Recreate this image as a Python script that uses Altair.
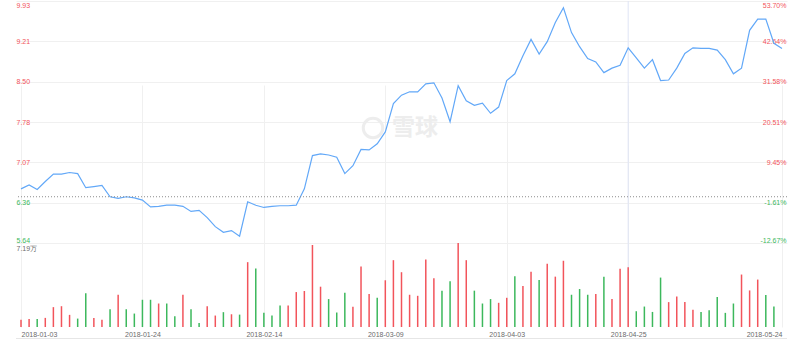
import altair as alt
import pandas as pd

# ---------------- data ----------------
dates = [
    "2018-01-03", "2018-01-04", "2018-01-05", "2018-01-08", "2018-01-09", "2018-01-10", "2018-01-11",
    "2018-01-12", "2018-01-15", "2018-01-16", "2018-01-17", "2018-01-18", "2018-01-19", "2018-01-22",
    "2018-01-23", "2018-01-24", "2018-01-25", "2018-01-26", "2018-01-29", "2018-01-30", "2018-01-31",
    "2018-02-01", "2018-02-02", "2018-02-05", "2018-02-06", "2018-02-07", "2018-02-08", "2018-02-09",
    "2018-02-12", "2018-02-13", "2018-02-14", "2018-02-15", "2018-02-20", "2018-02-21", "2018-02-22",
    "2018-02-23", "2018-02-26", "2018-02-27", "2018-02-28",
    "2018-03-01", "2018-03-02", "2018-03-05", "2018-03-06", "2018-03-07", "2018-03-08", "2018-03-09",
    "2018-03-12", "2018-03-13", "2018-03-14", "2018-03-15", "2018-03-16", "2018-03-19", "2018-03-20",
    "2018-03-21", "2018-03-22", "2018-03-23", "2018-03-26", "2018-03-27", "2018-03-28", "2018-03-29",
    "2018-04-03", "2018-04-04", "2018-04-06", "2018-04-09", "2018-04-10", "2018-04-11", "2018-04-12",
    "2018-04-13", "2018-04-16", "2018-04-17", "2018-04-18", "2018-04-19", "2018-04-20", "2018-04-23",
    "2018-04-24", "2018-04-25", "2018-04-26", "2018-04-27", "2018-04-30",
    "2018-05-02", "2018-05-03", "2018-05-04", "2018-05-07", "2018-05-08", "2018-05-09", "2018-05-10",
    "2018-05-11", "2018-05-14", "2018-05-15", "2018-05-16", "2018-05-17", "2018-05-18", "2018-05-21",
    "2018-05-23", "2018-05-24",
]

close = [
    6.60, 6.67, 6.59, 6.73, 6.86, 6.86, 6.89, 6.87, 6.62, 6.64,
    6.66, 6.46, 6.43, 6.46, 6.44, 6.40, 6.28, 6.29, 6.31, 6.31,
    6.29, 6.20, 6.22, 6.09, 5.93, 5.83, 5.86, 5.76, 6.37, 6.31,
    6.27, 6.29, 6.30, 6.30, 6.31, 6.60, 7.19, 7.22, 7.20, 7.16,
    6.87, 7.01, 7.30, 7.29, 7.40, 7.61, 8.11, 8.26, 8.32, 8.32,
    8.46, 8.48, 8.21, 7.79, 8.43, 8.16, 8.08, 8.12, 7.94, 8.05,
    8.52, 8.64, 8.96, 9.25, 8.99, 9.21, 9.55, 9.81, 9.37, 9.12,
    8.91, 8.85, 8.66, 8.74, 8.79, 9.10, 8.92, 8.74, 8.89, 8.52,
    8.53, 8.74, 9.00, 9.10, 9.09, 9.09, 9.06, 8.89, 8.64, 8.74,
    9.41, 9.61, 9.61, 9.18, 9.09,
]

# volume in 万 (10k shares)
volume = [
    0.63, 0.69, 0.69, 0.78, 1.70, 1.78, 1.04, 0.72, 2.88, 0.78,
    0.63, 1.52, 2.76, 1.52, 1.15, 2.33, 2.33, 2.01, 2.01, 0.92,
    2.76, 1.52, 0.35, 1.78, 0.98, 1.27, 1.09, 1.06, 5.55, 5.00,
    1.21, 0.98, 1.84, 1.84, 2.99, 3.08, 7.02, 3.45, 2.39, 1.24,
    2.93, 1.73, 5.18, 2.82, 2.50, 4.00, 5.72, 4.69, 2.76, 2.67,
    5.78, 4.17, 3.11, 3.91, 7.19, 5.72, 3.11, 2.01, 2.39, 2.07,
    2.50, 4.34, 3.51, 4.72, 4.03, 5.41, 4.31, 5.67, 2.76, 3.25,
    2.76, 2.82, 4.31, 2.39, 4.98, 5.12, 1.35, 1.75, 1.29, 4.23,
    2.13, 2.62, 2.13, 1.47, 1.29, 1.44, 2.56, 1.21, 2.01, 4.49,
    3.13, 4.06, 2.73, 1.75,
]

direction = [
    "up", "up", "down", "up", "up", "up", "up", "down", "down", "up",
    "up", "down", "up", "down", "down", "down", "down", "up", "down", "down",
    "up", "down", "down", "up", "up", "down", "up", "down", "up", "down",
    "down", "down", "down", "up", "up", "up", "up", "up", "down", "down",
    "down", "up", "up", "up", "down", "up", "up", "up", "up", "up",
    "up", "up", "down", "down", "up", "up", "down", "down", "down", "up",
    "up", "down", "up", "up", "down", "up", "up", "up", "down", "down",
    "down", "up", "down", "up", "up", "up", "down", "down", "down", "down",
    "up", "up", "up", "up", "down", "down", "down", "down", "down", "up",
    "up", "up", "down", "down",
]

base_price = 6.46
price_ticks = [5.64, 6.355, 7.07, 7.785, 8.50, 9.215, 9.93]
price_labels = ["5.64", "6.36", "7.07", "7.78", "8.50", "9.21", "9.93"]
pct_labels = ["-12.67%", "-1.61%", "9.45%", "20.51%", "31.58%", "42.64%", "53.70%"]
x_tick_idx = [0, 15, 30, 45, 60, 75, 94]
vol_max = 7.19
vol_max_label = "7.19万"
watermark = "雪球"
hover_idx = 75

# ---------------- styles / layout ----------------
RED = "#f2545b"
GREEN = "#3cb85c"
LINE = "#62a8f8"
GRID = "#f0f0f0"
FONT = "Liberation Sans"
W = 771
H = 326            # whole plot area (price + volume)
H_PRICE = 242      # price part: 0 .. 242, volume part: 242 .. 326


def step_expr(values, labels):
    expr = "'" + labels[-1] + "'"
    for i in range(len(values) - 2, -1, -1):
        mid = (values[i] + values[i + 1]) / 2
        expr = f"datum.value < {mid:.4f} ? '{labels[i]}' : ({expr})"
    return expr


def idx_expr(idxs, labels):
    expr = "''"
    for i, l in zip(reversed(idxs), reversed(labels)):
        expr = f"round(datum.value) == {i} ? '{l}' : ({expr})"
    return expr


price_df = pd.DataFrame({"idx": list(range(len(close))), "date": dates, "close": close})
vol_df = pd.DataFrame({"idx": list(range(len(volume))), "date": dates[: len(volume)],
                       "vol": volume, "dir": direction})
base_df = pd.DataFrame({"base": [base_price]})
hover_df = pd.DataFrame({"idx": [hover_idx]})

lo, hi = price_ticks[0], price_ticks[-1]
x_scale = alt.Scale(domain=[0, len(close) - 1], nice=False, zero=False)
y_price_scale = alt.Scale(domain=[lo, hi], range=[H_PRICE, 0], nice=False, zero=False)
y_vol_scale = alt.Scale(domain=[0, vol_max], range=[H, H_PRICE], nice=False, zero=False)

color_expr = f"datum.value < {base_price} ? '{GREEN}' : '{RED}'"
baseline_expr = f"datum.value > {hi - 0.05} ? 'top' : datum.value < {lo + 0.05} ? 'bottom' : 'middle'"
xalign_expr = f"datum.value < 1 ? 'left' : datum.value > {len(close) - 2} ? 'right' : 'center'"

x_axis = alt.Axis(values=x_tick_idx, labelExpr=idx_expr(x_tick_idx, [dates[i] for i in x_tick_idx]),
                  labelAlign={"expr": xalign_expr}, ticks=False, tickSize=0, domain=False,
                  grid=True, gridColor=GRID, labelPadding=3, labelFontSize=7, labelFont=FONT,
                  labelColor="#6b6b6b", title=None)
X = alt.X("idx:Q", scale=x_scale, axis=x_axis)

# watermark (decoration)
wm_text = alt.Chart(base_df).mark_text(
    text=watermark, font="Noto Sans CJK SC", fontSize=23, fontWeight="bold", color="#ededed"
).encode(x=alt.value(399), y=alt.value(127))
wm_icon = alt.Chart(base_df).mark_point(
    shape="circle", size=380, stroke="#ededed", strokeWidth=3, filled=False, opacity=1
).encode(x=alt.value(357), y=alt.value(127))

hover = alt.Chart(hover_df).mark_rule(color="#dfe4f5", strokeWidth=1).encode(x=X)

line = alt.Chart(price_df).mark_line(color=LINE, strokeWidth=1.2).encode(
    x=X,
    y=alt.Y("close:Q", scale=y_price_scale, axis=alt.Axis(
        values=price_ticks, orient="left", labelExpr=step_expr(price_ticks, price_labels),
        labelAlign="left", labelBaseline={"expr": baseline_expr}, labelPadding=0,
        ticks=False, tickSize=0, domain=False, grid=True, gridColor=GRID,
        labelColor={"expr": color_expr}, labelFontSize=7, labelFont=FONT, title=None)),
)

base_rule = alt.Chart(base_df).mark_rule(color="#8c8c8c", strokeWidth=1, strokeDash=[1, 2]).encode(
    y=alt.Y("base:Q", scale=y_price_scale, axis=alt.Axis(
        values=price_ticks, orient="right", labelExpr=step_expr(price_ticks, pct_labels),
        labelAlign="right", labelBaseline={"expr": baseline_expr}, labelPadding=-1,
        ticks=False, tickSize=0, domain=False, grid=False,
        labelColor={"expr": color_expr}, labelFontSize=7, labelFont=FONT, title=None)),
)

bars = alt.Chart(vol_df).mark_bar(size=1.5).encode(
    x=X,
    y=alt.Y("vol:Q", scale=y_vol_scale, axis=alt.Axis(
        values=[vol_max], orient="left", labelExpr=f"'{vol_max_label}'", labelAlign="left",
        labelBaseline="top", labelPadding=0, labelOffset=1, ticks=False, tickSize=0, domain=False,
        grid=False, labelFontSize=7, labelFont=FONT, labelColor="#6b6b6b", title=None)),
    color=alt.Color("dir:N", scale=alt.Scale(domain=["up", "down"], range=[RED, GREEN]), legend=None),
)

bottom_line = alt.Chart(base_df).mark_rule(color="#e6e6e6", strokeWidth=1).encode(
    x=alt.value(0), x2=alt.value(W), y=alt.value(H + 11.5)
)

chart = alt.layer(wm_icon, wm_text, hover, line, base_rule, bars, bottom_line).resolve_scale(
    y="independent").resolve_axis(y="independent").properties(
    width=W, height=H,
    padding={"left": 16, "top": 1, "right": 13, "bottom": 13},
    autosize=alt.AutoSizeParams(type="none"),
    background="white",
).configure_view(stroke=None)

chart.save("out.html", embed_options={"renderer": "svg", "actions": False})
